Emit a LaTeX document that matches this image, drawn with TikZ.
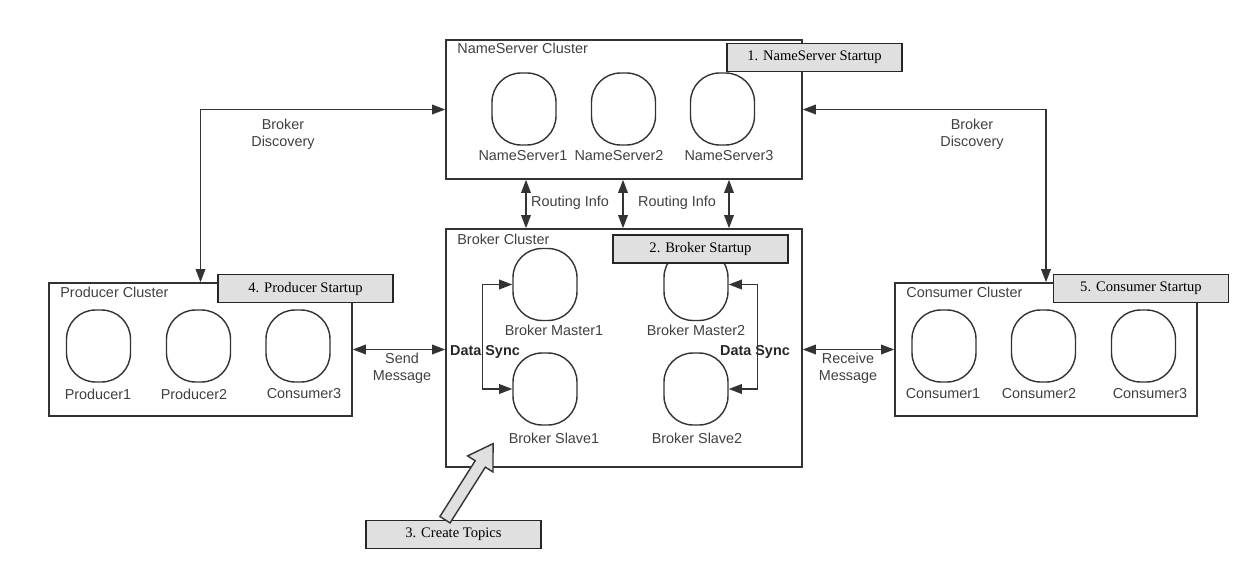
\documentclass[tikz,border=0pt]{standalone}
\usepackage{fontspec}
\setmainfont{Liberation Sans}
\newfontfamily\stepfont{Liberation Serif}
\usepackage{tikz}
\usetikzlibrary{positioning,arrows.meta,calc}

\tikzset{
  cluster/.style={draw=black!80, line width=0.9pt, inner sep=0pt},
  server/.style={draw=black!80, line width=0.8pt, rounded corners=0.58cm,
    minimum width=1.28cm, minimum height=1.44cm, inner sep=0pt},
  startbox/.style={draw=black!85, fill=black!12, line width=0.9pt, inner sep=0pt,
    minimum width=3.5cm, minimum height=0.56cm,
    font=\stepfont\fontsize{8.3}{9}\selectfont},
  txt/.style={text=black!75, inner sep=0pt, font=\fontsize{8.2}{9.8}\selectfont},
  bold/.style={text=black!85, inner sep=0pt, font=\bfseries\fontsize{8.2}{9.8}\selectfont},
  link/.style={draw=black!80, line width=0.9pt,
    {Triangle[length=7.5pt,width=5.5pt]}-{Triangle[length=7.5pt,width=5.5pt]}},
}

\begin{document}
\begin{tikzpicture}[x=0.02cm, y=-0.02cm]
\useasboundingbox (0,0) rectangle (1242,561);

% Clusters
\node[cluster, minimum width=7.12cm, minimum height=2.78cm] (ns) at (624,109.5) {};
\node[cluster, minimum width=7.12cm, minimum height=4.76cm] (broker) at (624,348) {};
\node[cluster, minimum width=6.06cm, minimum height=2.66cm] (prod) at (200.5,349.5) {};
\node[cluster, minimum width=6.04cm, minimum height=2.66cm] (cons) at (1046,349.5) {};

\node[txt, anchor=west] (nstitle) at (457,48) {NameServer Cluster};
\node[txt, anchor=west] (brokertitle) at (457,239) {Broker Cluster};
\node[txt, anchor=west] (prodtitle) at (60,292) {Producer Cluster};
\node[txt, anchor=west] (constitle) at (906,292) {Consumer Cluster};

% NameServers
\node[server] (ns1) at (524,109) {};
\node[server] (ns2) at (623.5,109) {};
\node[server] (ns3) at (722.5,109) {};
\node[txt] (ns1lbl) at (523,156) {NameServer1};
\node[txt] (ns2lbl) at (619,156) {NameServer2};
\node[txt] (ns3lbl) at (729,156) {NameServer3};

% Brokers
\node[server] (bm1) at (545,284.5) {};
\node[server] (bm2) at (696,284.5) {};
\node[server] (bs1) at (545,389) {};
\node[server] (bs2) at (696,389) {};
\node[txt] (bm1lbl) at (554,330) {Broker Master1};
\node[txt] (bm2lbl) at (696,330) {Broker Master2};
\node[txt] (bs1lbl) at (554,438) {Broker Slave1};
\node[txt] (bs2lbl) at (697,438) {Broker Slave2};

% Producers
\node[server] (p1) at (98.5,346) {};
\node[server] (p2) at (198.5,346) {};
\node[server] (p3) at (298,346) {};
\node[txt] (p1lbl) at (98,394) {Producer1};
\node[txt] (p2lbl) at (194,394) {Producer2};
\node[txt] (p3lbl) at (304,394) {Consumer3};

% Consumers
\node[server] (c1) at (944,346) {};
\node[server] (c2) at (1043.5,346) {};
\node[server] (c3) at (1143.5,346) {};
\node[txt] (c1lbl) at (943,394) {Consumer1};
\node[txt] (c2lbl) at (1039,394) {Consumer2};
\node[txt] (c3lbl) at (1150,394) {Consumer3};

% Data sync
\node[bold] (sync1) at (485,352) {Data Sync};
\node[bold] (sync2) at (755,352) {Data Sync};
\draw[link] (bm1.west) -- ++(-30,0) |- (bs1.west);
\draw[link] (bm2.east) -- ++(29,0) |- (bs2.east);

% Routing info
\draw[link] (ns.south -| 526,0) -- (broker.north -| 526,0);
\draw[link] (ns.south -| 623,0) -- (broker.north -| 623,0);
\draw[link] (ns.south -| 729,0) -- (broker.north -| 729,0);
\node[txt] (route1) at (570,203) {Routing Info};
\node[txt] (route2) at (677,203) {Routing Info};

% Broker discovery
\draw[link] (prod.north) |- (ns.west);
\draw[link] (cons.north) |- (ns.east);
\node[txt, align=center] (disc1) at (283,134) {Broker\\Discovery};
\node[txt, align=center] (disc2) at (972,134) {Broker\\Discovery};

% Messages
\draw[link] (prod.east) -- (prod.east -| broker.west);
\draw[link] (cons.west) -- (cons.west -| broker.east);
\node[txt, align=center] (send) at (402,368) {Send\\Message};
\node[txt, align=center] (recv) at (848,368) {Receive\\Message};

% Startup steps
\node[startbox] (step1) at (814.5,57.5) {1. NameServer Startup};
\node[startbox] (step2) at (700.5,249) {2. Broker Startup};
\node[startbox] (step3) at (453.5,534.5) {3. Create Topics};
\node[startbox] (step4) at (305.5,288.5) {4. Producer Startup};
\node[startbox] (step5) at (1141,288.5) {5. Consumer Startup};

% Create topics arrow
\coordinate (tail) at (step3.north -| 445,0);
\begin{scope}[shift={(tail)}, rotate=57.7]
  \draw[black!80, fill=black!12, line width=0.8pt]
    (0,-6) -- (66,-6) -- (66,-15) -- (90,0) -- (66,15) -- (66,6) -- (0,6) -- cycle;
\end{scope}

\end{tikzpicture}
\end{document}
